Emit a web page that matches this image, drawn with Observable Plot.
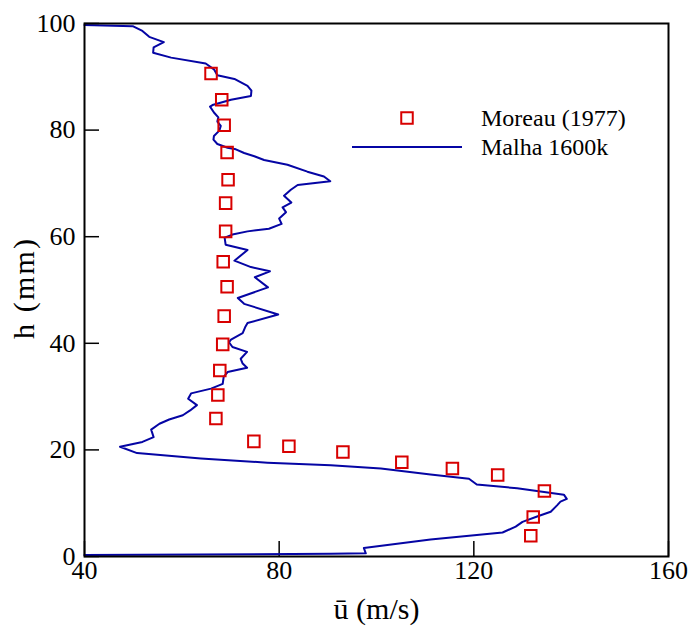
<!DOCTYPE html>
<html>
<head>
<meta charset="utf-8">
<script src="https://cdn.jsdelivr.net/npm/d3@7"></script>
<script src="https://cdn.jsdelivr.net/npm/@observablehq/plot@0.6"></script>
<style>
  html, body { margin: 0; padding: 0; background: #fff; }
  #chart { width: 689px; height: 628px; }
  #chart svg text { font-family: "Liberation Serif", "Times New Roman", serif; }
</style>
</head>
<body>
<div id="chart"></div>
<script>
// Measured mean velocity profile (Moreau, 1977)
const moreauU = [66.0, 68.2, 68.7, 69.3, 69.5, 69.0, 69.0, 68.5, 69.3, 68.7, 68.4, 67.8, 67.4, 67.0, 74.8, 82.0, 93.1, 105.2, 115.6, 124.9, 134.5, 132.2, 131.7];
const moreauH = [90.6, 85.7, 80.9, 75.8, 70.7, 66.3, 61.0, 55.3, 50.6, 45.1, 39.8, 34.9, 30.3, 25.9, 21.6, 20.7, 19.6, 17.7, 16.5, 15.3, 12.3, 7.4, 3.9];

// Simulated profile, mesh "Malha 1600k"
const malhaU = [40.0, 49.9, 51.9, 53.3, 56.3, 54.2, 54.1, 57.8, 64.9, 66.6, 67.3, 70.8, 73.5, 74.3, 74.2, 70.1, 66.3, 65.8, 66.6, 67.5, 67.3, 68.0, 67.7, 66.6, 66.5, 67.3, 69.4, 71.1, 72.8, 74.9, 76.9, 81.7, 85.8, 89.2, 90.5, 83.8, 82.4, 81.0, 82.5, 80.7, 81.4, 80.0, 80.5, 77.9, 73.5, 70.4, 68.8, 69.0, 73.5, 70.8, 74.2, 78.1, 75.0, 77.7, 71.5, 72.8, 79.8, 73.5, 73.0, 72.5, 70.1, 69.7, 70.4, 73.4, 72.1, 72.5, 73.4, 69.4, 68.6, 68.4, 66.0, 61.9, 61.3, 63.1, 61.7, 60.2, 57.4, 55.4, 53.7, 54.2, 51.9, 47.3, 50.8, 63.9, 77.6, 90.6, 100.9, 111.1, 119.0, 120.6, 128.9, 138.5, 139.1, 137.8, 137.1, 135.8, 133.0, 130.0, 128.6, 125.9, 111.1, 97.4, 97.8, 90.6, 40.0];
const malhaH = [99.7, 99.5, 98.6, 97.5, 96.5, 95.5, 94.5, 93.6, 92.5, 91.4, 90.3, 89.6, 88.3, 87.4, 86.4, 85.7, 84.7, 84.4, 83.3, 82.4, 81.6, 80.8, 79.9, 78.9, 78.2, 77.4, 76.7, 76.4, 75.7, 75.1, 74.4, 73.5, 72.2, 71.3, 70.4, 69.7, 68.8, 67.7, 66.4, 65.5, 64.6, 63.4, 62.4, 61.5, 61.0, 60.4, 59.8, 58.5, 57.5, 55.5, 54.3, 53.5, 52.4, 50.5, 48.5, 47.4, 45.4, 43.8, 43.0, 41.9, 40.7, 40.2, 39.3, 38.4, 37.1, 36.2, 35.4, 34.6, 33.7, 32.4, 31.5, 30.6, 29.6, 28.4, 27.4, 26.5, 25.7, 24.9, 23.8, 22.4, 21.5, 20.6, 19.4, 18.4, 17.6, 17.1, 16.5, 15.4, 14.6, 13.5, 12.8, 11.6, 10.8, 10.3, 9.6, 8.4, 7.5, 6.5, 5.6, 4.5, 3.2, 1.6, 0.6, 0.5, 0.3];

const xTicks = [40, 80, 120, 160];
const yTicks = [0, 20, 40, 60, 80, 100];
const xLabel = "ū (m/s)";
const yLabel = "h (mm)";
const seriesNames = ["Moreau (1977)", "Malha 1600k"];

const moreau = moreauU.map((u, i) => ({u, h: moreauH[i]}));
const malha = malhaU.map((u, i) => ({u, h: malhaH[i]}));

const serif = "'Liberation Serif', 'Times New Roman', serif";
const lineColor = "#0505a4";
const markColor = "#d80000";

// Legend drawn inside the plotting area, near its top right
function legend(index, scales, values, dimensions) {
  const {marginLeft, marginTop} = dimensions;
  const g = d3.create("svg:g")
    .attr("transform", `translate(${marginLeft},${marginTop})`)
    .attr("font-family", serif)
    .attr("font-size", 24)
    .attr("text-anchor", "start");
  const s = 11.5;
  g.append("rect")
    .attr("x", 323 - s / 2).attr("y", 95 - s / 2)
    .attr("width", s).attr("height", s)
    .attr("fill", "none").attr("stroke", markColor).attr("stroke-width", 2);
  g.append("line")
    .attr("x1", 268).attr("x2", 378).attr("y1", 124).attr("y2", 124)
    .attr("stroke", lineColor).attr("stroke-width", 2);
  g.append("text").attr("x", 397).attr("y", 95).attr("dy", "0.35em").text(seriesNames[0]);
  g.append("text").attr("x", 397).attr("y", 124).attr("dy", "0.35em").text(seriesNames[1]);
  return g.node();
}

const chart = Plot.plot({
  width: 689,
  height: 628,
  marginLeft: 84,
  marginRight: 21,
  marginTop: 23,
  marginBottom: 72,
  x: {domain: [40, 160]},
  y: {domain: [0, 100]},
  style: {
    fontFamily: serif,
    fontSize: "26px",
    color: "black",
    background: "white",
    overflow: "visible"
  },
  marks: [
    // inward ticks
    Plot.axisX(xTicks, {tickSize: -15, tickFormat: () => "", label: null, strokeWidth: 1.5}),
    Plot.axisY(yTicks, {tickSize: -15, tickFormat: () => "", label: null, strokeWidth: 1.5}),
    // tick labels
    Plot.axisX(xTicks, {tickSize: 0, tickPadding: 4, label: null, fontSize: 26, fontFamily: serif}),
    Plot.axisY(yTicks, {tickSize: 0, tickPadding: 9, label: null, fontSize: 26, fontFamily: serif}),
    Plot.line(malha, {x: "u", y: "h", stroke: lineColor, strokeWidth: 2, curve: "linear"}),
    Plot.dot(moreau, {x: "u", y: "h", symbol: "square", r: 6.5, stroke: markColor, strokeWidth: 2, fill: "none"}),
    Plot.frame({stroke: "black", strokeWidth: 2}),
    Plot.text([xLabel], {frameAnchor: "bottom", dy: 62, fontSize: 30, fontFamily: serif}),
    Plot.text([yLabel], {frameAnchor: "left", textAnchor: "middle", rotate: -90, dx: -60, dy: -1, fontSize: 30, fontFamily: serif, className: "ylabel"}),
    legend
  ]
});

// the vertical axis title is set a little wider than its natural length
chart.querySelectorAll(".ylabel text").forEach(t => {
  t.setAttribute("textLength", 100);
  t.setAttribute("lengthAdjust", "spacing");
});

document.getElementById("chart").appendChild(chart);
</script>
</body>
</html>
